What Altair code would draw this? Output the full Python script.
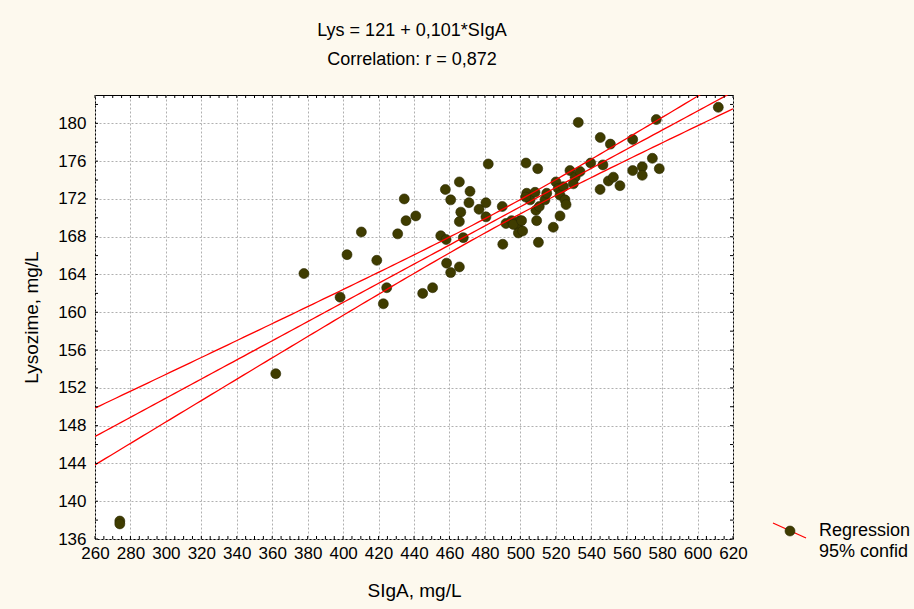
import numpy as np
import pandas as pd
import altair as alt

# ---- data ----
SIGA = [274.0, 274.0, 362.0, 377.9, 398.3, 402.2, 410.3, 419.0, 422.7, 424.6,
        430.8, 434.5, 435.5, 441.0, 444.9, 450.5, 455.1, 458.1, 457.7, 460.7,
        465.6, 466.4, 465.6, 471.6, 471.0, 467.8, 458.4, 460.7, 465.6, 476.7,
        480.6, 480.6, 481.9, 489.8, 490.1, 491.9, 495.1, 499.8, 498.3, 498.9,
        501.3, 503.2, 503.6, 505.5, 508.3, 508.8, 509.2, 510.2, 509.8, 510.7,
        513.9, 514.9, 518.6, 522.4, 520.1, 521.4, 524.3, 522.4, 525.2, 525.8,
        528.0, 530.9, 529.9, 532.7, 533.7, 539.7, 545.0, 545.1, 546.6, 550.8,
        549.7, 552.5, 556.2, 563.4, 563.4, 568.8, 568.8, 574.5, 576.7, 578.4,
        611.7, 503.0, 496.0, 500.7]
LYS = [137.9, 137.6, 153.5, 164.1, 161.6, 166.1, 168.5, 165.5, 160.9, 162.6,
       168.3, 172.0, 169.7, 170.2, 162.0, 162.6, 168.1, 167.7, 173.0, 171.9,
       173.8, 170.6, 169.6, 172.8, 171.6, 167.9, 165.2, 164.2, 164.8, 170.9,
       171.6, 170.1, 175.7, 171.2, 167.2, 169.4, 169.7, 169.7, 169.2, 168.4,
       168.6, 175.8, 172.6, 171.9, 172.7, 170.8, 169.7, 167.4, 175.2, 171.2,
       171.9, 172.6, 169.0, 170.2, 173.8, 173.1, 173.3, 172.4, 171.9, 171.4,
       175.0, 174.3, 173.6, 180.1, 174.9, 175.8, 173.0, 178.5, 175.6, 177.8,
       173.9, 174.3, 173.4, 178.3, 175.0, 175.4, 174.5, 176.3, 180.4, 175.2,
       181.7, 172.2, 169.3, 169.7]

TITLE_LINES = ["Lys = 121 + 0,101*SIgA", "Correlation: r = 0,872"]
LEGEND_LINES = ["Regression", "95% confid"]
X_TITLE = "SIgA, mg/L"
Y_TITLE = "Lysozime, mg/L"
X_DOMAIN = [260, 620]
Y_DOMAIN = [136, 183]
X_LABELS = list(range(260, 621, 20))
Y_LABELS = list(range(136, 181, 4))
X_MINOR = list(range(260, 621, 5))
Y_MINOR = list(range(136, 183, 2))

# ---- regression line and 95% confidence band from the points ----
x = np.array(SIGA)
y = np.array(LYS)
n = len(x)
b, a = np.polyfit(x, y, 1)
res = y - (a + b * x)
s = np.sqrt(np.sum(res ** 2) / (n - 2))
xbar = x.mean()
sxx = np.sum((x - xbar) ** 2)
t = 1.99
xs = np.linspace(X_DOMAIN[0], X_DOMAIN[1], 121)
fit = a + b * xs
half = t * s * np.sqrt(1.0 / n + (xs - xbar) ** 2 / sxx)
lines = pd.concat([
    pd.DataFrame({"x": xs, "y": fit + half, "k": "upper"}),
    pd.DataFrame({"x": xs, "y": fit, "k": "fit"}),
    pd.DataFrame({"x": xs, "y": fit - half, "k": "lower"}),
])

pts = pd.DataFrame({"x": SIGA, "y": LYS})

W, H = 638, 444
FONT = "Liberation Sans"
xs_scale = alt.Scale(domain=X_DOMAIN, nice=False, zero=False)
ys_scale = alt.Scale(domain=Y_DOMAIN, nice=False, zero=False)

x_axis = alt.Axis(values=X_LABELS, title=X_TITLE, ticks=False, domain=False,
                  grid=True, gridColor="#b0b0b0", gridDash=[2, 2], gridWidth=1,
                  labelFontSize=17, labelFont=FONT, labelColor="black",
                  labelPadding=6, titleFontSize=19, titleFont=FONT,
                  titleFontWeight="normal", titleColor="black", titlePadding=20,
                  labelFlush=False, labelOverlap=False)
y_axis = alt.Axis(values=Y_LABELS, title=Y_TITLE, ticks=False, domain=False,
                  grid=True, gridColor="#b0b0b0", gridDash=[2, 2], gridWidth=1,
                  labelFontSize=17, labelFont=FONT, labelColor="black",
                  labelPadding=9, titleFontSize=19, titleFont=FONT,
                  titleFontWeight="normal", titleColor="black", titlePadding=16,
                  labelFlush=False, labelOverlap=False)

points = alt.Chart(pts).mark_circle(size=100, color="#3f3c00", opacity=1,
                                    stroke="#2a2800", strokeWidth=0.6).encode(
    x=alt.X("x:Q", scale=xs_scale, axis=x_axis),
    y=alt.Y("y:Q", scale=ys_scale, axis=y_axis),
)

reg = alt.Chart(lines).mark_line(color="#ff0000", strokeWidth=1.3, clip=True).encode(
    x=alt.X("x:Q", scale=xs_scale, axis=None),
    y=alt.Y("y:Q", scale=ys_scale, axis=None),
    detail="k:N",
)

xt = pd.DataFrame({"x": X_MINOR})
yt = pd.DataFrame({"y": Y_MINOR})
tick_bottom = alt.Chart(xt).mark_rule(color="black", strokeWidth=1).encode(
    x=alt.X("x:Q", scale=xs_scale, axis=None), y=alt.value(H), y2=alt.value(H - 3))
tick_top = alt.Chart(xt).mark_rule(color="black", strokeWidth=1).encode(
    x=alt.X("x:Q", scale=xs_scale, axis=None), y=alt.value(0), y2=alt.value(3))
tick_left = alt.Chart(yt).mark_rule(color="black", strokeWidth=1).encode(
    y=alt.Y("y:Q", scale=ys_scale, axis=None), x=alt.value(0), x2=alt.value(3))
tick_right = alt.Chart(yt).mark_rule(color="black", strokeWidth=1).encode(
    y=alt.Y("y:Q", scale=ys_scale, axis=None), x=alt.value(W), x2=alt.value(W - 3))

def label(txt, px, py, size=18, align="center"):
    return alt.Chart(pd.DataFrame({"t": [txt]})).mark_text(
        font=FONT, fontSize=size, color="black", align=align, baseline="middle"
    ).encode(text="t:N", x=alt.value(px), y=alt.value(py))

t1 = label(TITLE_LINES[0], 317, -64)
t2 = label(TITLE_LINES[1], 317, -35)
l1 = label(LEGEND_LINES[0], 724, 436, size=18, align="left")
l2 = label(LEGEND_LINES[1], 724, 457, size=18, align="left")

leg_line = alt.Chart(pd.DataFrame({"d": [0]})).mark_rule(
    color="#ff0000", strokeWidth=1.3).encode(
    x=alt.value(678), x2=alt.value(711), y=alt.value(428), y2=alt.value(443))
leg_dot = alt.Chart(pd.DataFrame({"d": [0]})).mark_circle(
    size=100, color="#3f3c00", opacity=1, stroke="#2a2800", strokeWidth=0.6).encode(
    x=alt.value(695), y=alt.value(436))

chart = alt.layer(
    points, reg, tick_bottom, tick_top, tick_left, tick_right,
    t1, t2, l1, l2, leg_line, leg_dot
).resolve_axis(
    x="independent", y="independent"
).properties(
    width=W, height=H,
    background="#fdf9ee",
    padding={"left": 95, "top": 95, "right": 181, "bottom": 70},
    autosize=alt.AutoSizeParams(type="none"),
).configure_view(
    fill="white", stroke="black", strokeWidth=1
)

chart.save("out.html", embed_options={"renderer": "svg", "actions": False})
